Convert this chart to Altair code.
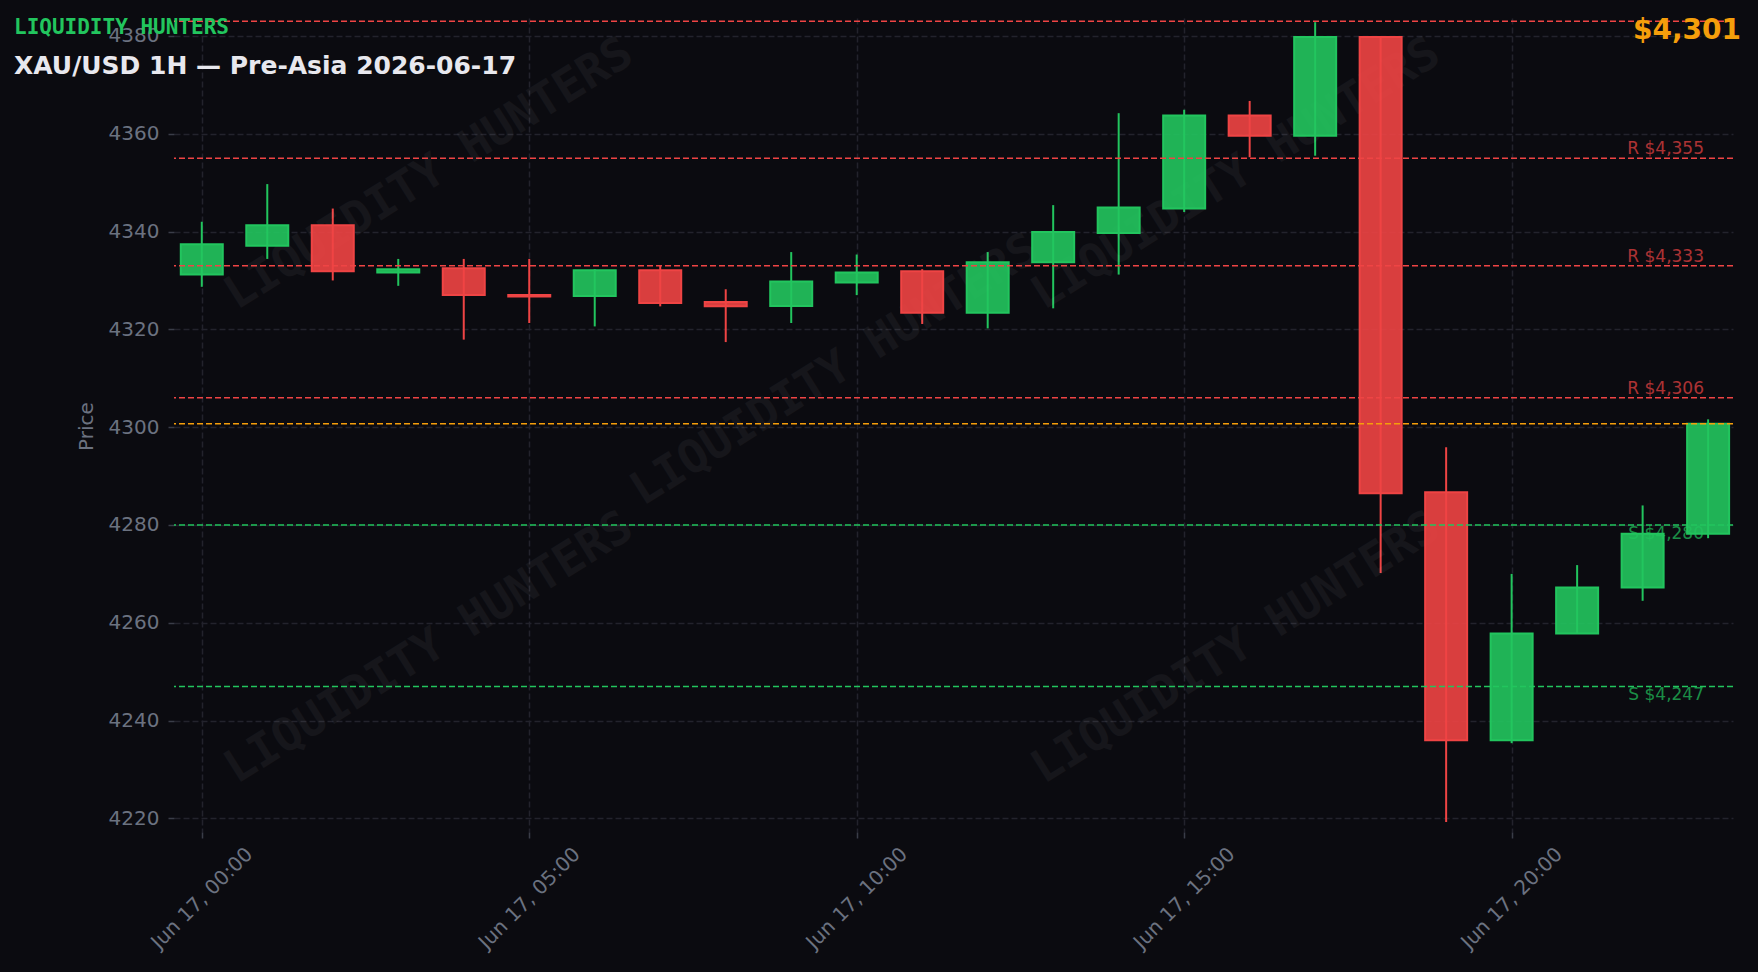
import altair as alt
import pandas as pd

# ---------------- data ----------------
hours = list(range(24))
opens = [4331.2, 4337.1, 4341.3, 4331.6, 4332.5, 4327.0, 4326.8, 4332.1, 4325.6, 4324.8, 4329.6, 4331.9,
         4323.4, 4333.7, 4339.7, 4344.7, 4363.7, 4359.6, 4379.8, 4286.7, 4236.0, 4257.8, 4267.2, 4278.2]
highs = [4342.0, 4349.7, 4344.7, 4334.4, 4334.4, 4334.4, 4332.3, 4333.0, 4328.2, 4335.8, 4335.3, 4332.3,
         4335.8, 4345.4, 4364.2, 4364.9, 4366.7, 4382.8, 4379.8, 4295.9, 4270.0, 4271.8, 4284.0, 4301.6]
lows = [4328.7, 4334.4, 4330.0, 4328.9, 4317.9, 4321.3, 4320.6, 4324.7, 4317.4, 4321.3, 4327.0, 4321.1,
        4320.2, 4324.3, 4331.2, 4344.0, 4355.2, 4355.5, 4270.2, 4219.3, 4235.4, 4257.8, 4264.5, 4277.3]
closes = [4337.4, 4341.3, 4331.9, 4332.3, 4327.0, 4326.7, 4332.1, 4325.4, 4324.7, 4329.8, 4331.6, 4323.4,
          4333.7, 4339.9, 4344.9, 4363.7, 4359.6, 4379.8, 4286.5, 4236.0, 4257.8, 4267.2, 4278.2, 4300.7]

res_levels = [4383, 4355, 4333, 4306]
res_labels = ["", "R $4,355", "R $4,333", "R $4,306"]
sup_levels = [4280, 4247]
sup_labels = ["S $4,280", "S $4,247"]
current_price = 4300.7
current_label = "$4,301"
y_ticks = [4220, 4240, 4260, 4280, 4300, 4320, 4340, 4360, 4380]
x_tick_hours = [0, 5, 10, 15, 20]

title_text = "XAU/USD 1H \u2014 Pre-Asia 2026-06-17"
brand_text = "LIQUIDITY HUNTERS"

GREEN = "#22c55e"
RED = "#ef4444"
ORANGE = "#f59e0b"
BG = "#0b0b10"
GRAY = "#6b7280"
GRID = "#23232c"

W, H = 1559, 814

df = pd.DataFrame({
    "t": [f"2026-06-17T{h:02d}:00:00" for h in hours],
    "open": opens, "high": highs, "low": lows, "close": closes,
})
df["dir"] = ["up" if c >= o else "down" for o, c in zip(opens, closes)]

res_df = pd.DataFrame({"price": res_levels, "label": res_labels})
sup_df = pd.DataFrame({"price": sup_levels, "label": sup_labels})
cur_df = pd.DataFrame({"price": [current_price]})

x_scale = alt.Scale(domain=[alt.DateTime(year=2026, month=6, date=16, hours=23, minutes=34, seconds=33),
                            alt.DateTime(year=2026, month=6, date=17, hours=23, minutes=22, seconds=48)],
                    padding=0)
y_scale = alt.Scale(domain=[4217.23, 4383.66], nice=False, zero=False)

x_axis = alt.Axis(
    values=[alt.DateTime(year=2026, month=6, date=17, hours=h) for h in x_tick_hours],
    format="%b %d, %H:%M", labelAngle=315, labelAlign="center", labelBaseline="middle",
    labelPadding=60, tickSize=6, title=None,
)
y_axis = alt.Axis(values=y_ticks, format="d", tickSize=6, labelPadding=9, title="Price",
                  titleX=-88, titleY=408, titleAngle=270, titleAlign="center",
                  titleBaseline="middle")

color_dir = alt.Scale(domain=["up", "down"], range=[GREEN, RED])

base = alt.Chart(df)

wicks = base.mark_rule(strokeWidth=2).encode(
    x=alt.X("t:T", scale=x_scale, axis=x_axis),
    y=alt.Y("low:Q", scale=y_scale, axis=y_axis),
    y2="high:Q",
    color=alt.Color("dir:N", scale=color_dir, legend=None),
)

bodies = base.mark_bar(size=42, strokeWidth=2, fillOpacity=0.9).encode(
    x="t:T",
    y="open:Q",
    y2="close:Q",
    fill=alt.Fill("dir:N", scale=color_dir, legend=None),
    stroke=alt.Stroke("dir:N", scale=color_dir, legend=None),
)

# watermark
wm_df = pd.DataFrame({"txt": [brand_text] * 5,
                      "px": [255, 661, 1062, 255, 1062],
                      "py": [156, 352, 156, 630, 630]})
watermark = alt.Chart(wm_df).mark_text(
    font="DejaVu Sans Mono", fontWeight="bold", fontSize=46, angle=328,
    color="#ffffff", opacity=0.045, align="center", baseline="middle",
).encode(x=alt.X("px:Q", scale=None), y=alt.Y("py:Q", scale=None), text="txt:N")

res_rules = alt.Chart(res_df).mark_rule(color=RED, strokeWidth=1.5, strokeDash=[6, 3]).encode(y="price:Q")
sup_rules = alt.Chart(sup_df).mark_rule(color=GREEN, strokeWidth=1.5, strokeDash=[6, 3]).encode(y="price:Q")
cur_rule = alt.Chart(cur_df).mark_rule(color=ORANGE, strokeWidth=1.5, strokeDash=[6, 3]).encode(y="price:Q")

res_text = alt.Chart(res_df).mark_text(
    font="DejaVu Sans", fontSize=17, color=RED, opacity=0.7, align="right", baseline="middle", dy=-9,
).encode(x=alt.value(W - 29), y="price:Q", text="label:N")
sup_text = alt.Chart(sup_df).mark_text(
    font="DejaVu Sans", fontSize=17, color=GREEN, opacity=0.7, align="right", baseline="middle", dy=9,
).encode(x=alt.value(W - 29), y="price:Q", text="label:N")

brand = alt.Chart(pd.DataFrame({"s": [brand_text]})).mark_text(
    font="DejaVu Sans Mono", fontWeight="bold", fontSize=21, color=GREEN,
    align="left", baseline="middle",
).encode(x=alt.value(-160), y=alt.value(10), text="s:N")

title = alt.Chart(pd.DataFrame({"s": [title_text]})).mark_text(
    font="DejaVu Sans", fontWeight="bold", fontSize=25, color="#e8e8ee",
    align="left", baseline="middle",
).encode(x=alt.value(-160), y=alt.value(48), text="s:N")

price_tag = alt.Chart(pd.DataFrame({"s": [current_label]})).mark_text(
    font="DejaVu Sans", fontWeight="bold", fontSize=28, color=ORANGE,
    align="right", baseline="middle",
).encode(x=alt.value(1567), y=alt.value(13), text="s:N")


def build(left, top, right, bottom):
    return alt.layer(
        wicks, watermark, bodies, res_rules, sup_rules, cur_rule, res_text, sup_text, brand, title, price_tag
    ).properties(
        width=W, height=H,
        autosize=alt.AutoSizeParams(type="none"),
        padding={"left": left, "top": top, "right": right, "bottom": bottom},
        background=BG,
    ).configure_view(stroke=None).configure_axis(
        domain=False,
        grid=True, gridColor=GRID, gridDash=[6, 3], gridWidth=1.5,
        tickColor="#3a3d48", tickWidth=1.5,
        labelFont="DejaVu Sans", labelFontSize=20, labelColor=GRAY,
        titleFont="DejaVu Sans", titleFontSize=20, titleColor=GRAY, titleFontWeight="normal",
    )


template = None
try:
    import jinja2
    from altair.utils.html import TEMPLATES

    _std = TEMPLATES["standard"]

    class DarkPage(jinja2.Template):
        def render(self, *args, **kwargs):
            html = _std.render(*args, **kwargs)
            return html.replace(
                "<style>",
                "<style>\n    html, body { margin: 0; padding: 0; background: " + BG + "; overflow: hidden; }",
                1,
            )

    template = DarkPage("")
except Exception:
    template = None

if template is not None:
    try:
        chart = build(174, 18, 24, 138)
        chart.save("out.html", embed_options={"renderer": "svg", "actions": False}, template=template)
    except Exception:
        chart = build(166, 10, 17, 122)
        chart.save("out.html", embed_options={"renderer": "svg", "actions": False})
else:
    chart = build(166, 10, 17, 122)
    chart.save("out.html", embed_options={"renderer": "svg", "actions": False})
